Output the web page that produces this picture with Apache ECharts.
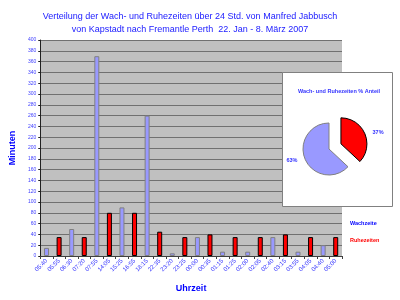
<!DOCTYPE html>
<html>
<head>
<meta charset="utf-8">
<script src="https://cdn.jsdelivr.net/npm/echarts@6/dist/echarts.min.js"></script>
<style>html,body{margin:0;padding:0;background:#fff}#c{width:400px;height:300px}</style>
</head>
<body>
<div id="c"></div>
<script>
var categories = ['05:40','05:55','06:30','07:20','07:55','14:05','15:25','16:55','18:15','22:35','23:20','23:25','00:00','00:35','01:15','01:25','02:00','02:05','02:40','03:15','03:55','04:05','04:40','05:00'];
var wake = [15,null,50,null,370,null,90,null,260,null,5,null,35,null,8,null,8,null,35,null,8,null,20,null];
var rest = [null,35,null,35,null,80,null,80,null,45,null,35,null,40,null,35,null,35,null,40,null,35,null,35];
var yTicks = {min:0, max:400, interval:20};
var seriesNames = ['Wachzeite','Ruhezeiten'];

function sum(a){var s=0;a.forEach(function(v){if(v!=null)s+=v;});return s;}
var F = 'Liberation Sans, Arial, sans-serif';
var chart = echarts.init(document.getElementById('c'), null, {renderer:'canvas'});
chart.setOption({
  animation:false,
  title:[{
    text:'Verteilung der Wach- und Ruhezeiten über 24 Std. von Manfred Jabbusch\nvon Kapstadt nach Fremantle Perth  22. Jan - 8. März 2007',
    left:185, top:5, textAlign:'center',
    textStyle:{fontFamily:F, fontSize:9, fontWeight:'normal', lineHeight:13, color:'#2020ff'}
  },{
    text:'Wach- und Ruhezeiten % Anteil',
    left:334, top:83, textAlign:'center',
    textStyle:{fontFamily:F, fontSize:5.5, fontWeight:'bold', color:'#3333ff'}
  }],
  legend:{
    orient:'vertical', left:344, top:220, padding:0, itemWidth:0, itemHeight:0, itemGap:11,
    icon:'rect',
    data:[{name:seriesNames[0], textStyle:{color:'#0000ff'}},{name:seriesNames[1], textStyle:{color:'#ff0000'}}],
    textStyle:{fontFamily:F, fontSize:5.5, fontWeight:'bold'},
    selectedMode:false
  },
  graphic:[{type:'rect', z:5, shape:{x:282.5,y:72.5,width:110,height:134}, style:{fill:'#ffffff', stroke:'#808080', lineWidth:1}}],
  grid:{left:36, right:58, top:40, bottom:44, show:true, backgroundColor:'#c0c0c0', borderWidth:0},
  xAxis:{
    type:'category', data:categories,
    name:'Uhrzeit', nameLocation:'middle', nameGap:28,
    nameTextStyle:{fontFamily:F, fontSize:9, fontWeight:'bold', color:'#0000ff'},
    axisLine:{lineStyle:{color:'#404040'}},
    axisTick:{show:true, length:3, lineStyle:{color:'#404040'}},
    axisLabel:{rotate:45, fontFamily:F, fontSize:6, color:'#3333ff', margin:4, interval:0}
  },
  yAxis:{
    type:'value', min:yTicks.min, max:yTicks.max, interval:yTicks.interval,
    name:'Minuten', nameLocation:'middle', nameGap:20, nameRotate:90,
    nameTextStyle:{fontFamily:F, fontSize:9, fontWeight:'bold', color:'#0000ff'},
    axisLine:{show:true, lineStyle:{color:'#202020'}},
    axisTick:{show:true, length:2, lineStyle:{color:'#202020'}},
    axisLabel:{fontFamily:F, fontSize:5, color:'#4040ff', margin:4},
    splitLine:{lineStyle:{color:'#707070', width:1}}
  },
  series:[{
    name:seriesNames[0], type:'bar', data:wake, barWidth:5, barGap:'-100%',
    itemStyle:{color:'#9999ff', borderColor:'#808080', borderWidth:1}
  },{
    name:seriesNames[1], type:'bar', data:rest, barWidth:5,
    itemStyle:{color:'#ff0000', borderColor:'#000000', borderWidth:1}
  },{
    type:'pie', z:8, center:[329,149], radius:26, startAngle:90,
    selectedMode:'single', selectedOffset:13, avoidLabelOverlap:false,
    label:{position:'outside', fontFamily:F, fontSize:5.5, fontWeight:'bold', color:'#3333ff',
      formatter:function(p){return Math.round(p.percent)+'%';}},
    labelLine:{show:false, length:3, length2:0},
    emphasis:{disabled:true},
    data:[
      {name:seriesNames[1], value:sum(rest), selected:true, itemStyle:{color:'#ff0000', borderColor:'#000000', borderWidth:1}},
      {name:seriesNames[0], value:sum(wake), itemStyle:{color:'#9999ff', borderColor:'#808080', borderWidth:1}}
    ]
  }]
});
</script>
</body>
</html>
